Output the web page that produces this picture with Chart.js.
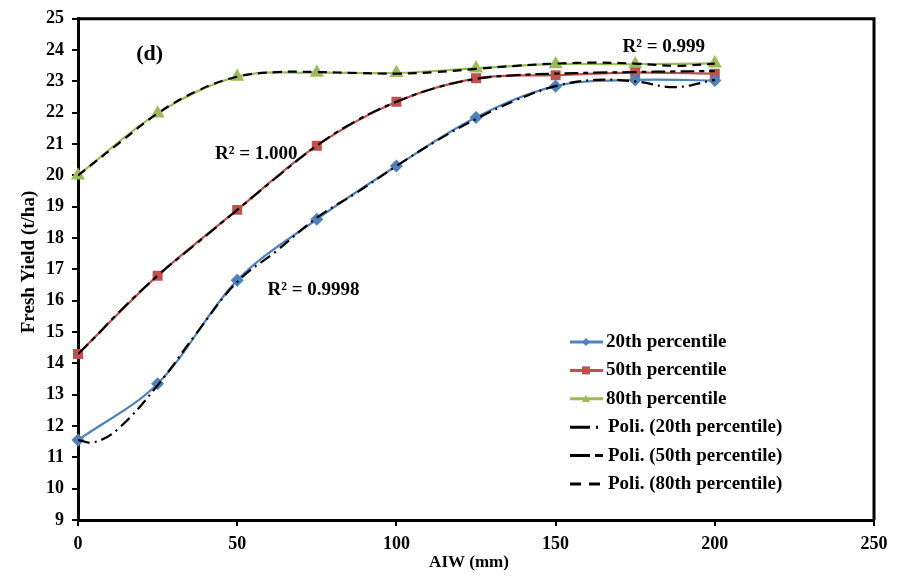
<!DOCTYPE html>
<html>
<head>
<meta charset="utf-8">
<script src="https://cdn.jsdelivr.net/npm/chart.js@4.4.1/dist/chart.umd.min.js"></script>
<style>
  body { margin: 0; background: #fff; }
  #wrap { width: 897px; height: 578px; }
</style>
</head>
<body>
<div id="wrap"><canvas id="chart0" width="897" height="578"></canvas></div>
<script>
"use strict"

// == data
const aiw = [0, 25, 50, 75, 100, 125, 150, 175, 200]
const p20 = [11.55, 13.35, 16.65, 18.6, 20.3, 21.85, 22.85, 23.05, 23.03]
const p50 = [14.3, 16.8, 18.9, 20.95, 22.35, 23.1, 23.2, 23.28, 23.25]
const p80 = [20.0, 21.98, 23.15, 23.28, 23.27, 23.42, 23.55, 23.55, 23.58]

// polynomial trend lines
const trendX   = [0, 5, 12.5, 25, 37.5, 50, 62.5, 75, 87.5, 100, 112.5, 125, 137.5, 150, 162.5, 175, 187.5, 200]
const trend20  = [11.55, 11.48, 11.9, 13.3, 15.0, 16.6, 17.6, 18.65, 19.45, 20.3, 21.1, 21.8, 22.4, 22.85, 23.05, 23.0, 22.82, 23.05]
const trend50  = [14.3, 14.8, 15.6, 16.8, 17.85, 18.9, 19.95, 20.95, 21.75, 22.35, 22.8, 23.08, 23.2, 23.25, 23.28, 23.3, 23.32, 23.33]
const trend80  = [20.0, 20.4, 21.0, 21.98, 22.7, 23.15, 23.3, 23.3, 23.27, 23.25, 23.3, 23.4, 23.5, 23.57, 23.6, 23.57, 23.5, 23.57]

const xTicks = [0, 50, 100, 150, 200, 250]
const yMin = 9, yMax = 25

// R² labels, placed in data coordinates
const notes = [
    { text: "(d)",          x: 22.5,  y: 23.87, size: 22 },
    { text: "R² = 1.000",   x: 56.0,  y: 20.67, size: 19 },
    { text: "R² = 0.9998",  x: 74.0,  y: 16.35, size: 19 },
    { text: "R² = 0.999",   x: 184.0, y: 24.11, size: 19 },
]

const FONT = "'Liberation Serif', 'Times New Roman', serif"
const BLUE = "#4F81BD", RED = "#C0504D", GREEN = "#9BBB59"

function pts(xs, ys) {
    return xs.map((x, i) => ({ x: x, y: ys[i] }))
}

const legendItems = [
    { label: "20th percentile", color: BLUE, marker: "rectRot", dash: [] },
    { label: "50th percentile", color: RED, marker: "rect", dash: [] },
    { label: "80th percentile", color: GREEN, marker: "triangle", dash: [] },
    { label: "Poli. (20th percentile)", color: "#000", marker: null, dash: [20, 6, 2, 40] },
    { label: "Poli. (50th percentile)", color: "#000", marker: null, dash: [20, 5, 8, 40] },
    { label: "Poli. (80th percentile)", color: "#000", marker: null, dash: [11, 8, 11, 40] },
]

function drawMarker(ctx, type, x, y, r, color) {
    ctx.save()
    ctx.fillStyle = color
    ctx.beginPath()
    if (type == "rect") {
        ctx.rect(x - r, y - r, 2 * r, 2 * r)
    } else if (type == "rectRot") {
        ctx.moveTo(x, y - r); ctx.lineTo(x + r, y); ctx.lineTo(x, y + r); ctx.lineTo(x - r, y)
    } else {
        ctx.moveTo(x, y - r); ctx.lineTo(x + r, y + r * 0.8); ctx.lineTo(x - r, y + r * 0.8)
    }
    ctx.closePath()
    ctx.fill()
    ctx.restore()
}

const extras = {
    id: "extras",
    afterDraw(chart) {
        const ctx = chart.ctx
        const a = chart.chartArea
        const xs = chart.scales.x, ys = chart.scales.y
        ctx.save()
        // top and right frame
        ctx.strokeStyle = "#000"
        ctx.lineWidth = 3
        ctx.beginPath()
        ctx.moveTo(a.left, a.top)
        ctx.lineTo(a.right, a.top)
        ctx.lineTo(a.right, a.bottom)
        ctx.stroke()

        // axis titles
        ctx.fillStyle = "#000"
        ctx.textAlign = "center"
        ctx.textBaseline = "middle"
        ctx.font = "bold 17px " + FONT
        ctx.fillText("AIW (mm)", 469, 563)
        ctx.save()
        ctx.translate(29, 262)
        ctx.rotate(-Math.PI / 2)
        ctx.font = "bold 19px " + FONT
        ctx.fillText("Fresh Yield (t/ha)", 0, 0)
        ctx.restore()

        // notes
        notes.forEach(n => {
            ctx.font = "bold " + n.size + "px " + FONT
            ctx.fillText(n.text, xs.getPixelForValue(n.x), ys.getPixelForValue(n.y))
        })

        // legend
        const lx = 570, top = 342, step = 28.4
        ctx.textAlign = "left"
        ctx.font = "bold 19px " + FONT
        legendItems.forEach((it, i) => {
            const y = top + i * step
            ctx.strokeStyle = it.color
            ctx.lineWidth = 3
            ctx.setLineDash(it.dash)
            ctx.beginPath()
            ctx.moveTo(lx, y)
            ctx.lineTo(lx + 33, y)
            ctx.stroke()
            ctx.setLineDash([])
            if (it.marker) drawMarker(ctx, it.marker, lx + 16, y, 4, it.color)
            ctx.fillStyle = "#000"
            ctx.fillText(it.label, it.marker ? lx + 36 : lx + 38, y)
        })
        ctx.restore()
    }
}

const axisFont = { family: FONT, size: 18, weight: "bold" }

new Chart(document.getElementById("chart0").getContext("2d"), {
    type: "line",
    data: {
        datasets: [
            { label: "Poli. (20th percentile)", data: pts(trendX, trend20), borderColor: "#000", borderWidth: 2.2,
              borderDash: [12, 5, 2, 5], pointRadius: 0, tension: 0.4, order: 0 },
            { label: "Poli. (50th percentile)", data: pts(trendX, trend50), borderColor: "#000", borderWidth: 2.2,
              borderDash: [14, 5, 5, 5], pointRadius: 0, tension: 0.4, order: 0 },
            { label: "Poli. (80th percentile)", data: pts(trendX, trend80), borderColor: "#000", borderWidth: 2.2,
              borderDash: [9, 6], pointRadius: 0, tension: 0.4, order: 0 },
            { label: "20th percentile", data: pts(aiw, p20), borderColor: BLUE, backgroundColor: BLUE, borderWidth: 2.2,
              pointStyle: "rectRot", pointRadius: 5, tension: 0.35, clip: false, order: 1 },
            { label: "50th percentile", data: pts(aiw, p50), borderColor: RED, backgroundColor: RED, borderWidth: 2.2,
              pointStyle: "rect", pointRadius: 5.5, tension: 0.35, clip: false, order: 1 },
            { label: "80th percentile", data: pts(aiw, p80), borderColor: GREEN, backgroundColor: GREEN, borderWidth: 2.2,
              pointStyle: "triangle", pointRadius: 6, tension: 0.35, clip: false, order: 1 },
        ]
    },
    options: {
        responsive: false,
        animation: false,
        devicePixelRatio: 1,
        layout: { padding: { left: 0, top: 17, right: 23, bottom: 0 } },
        plugins: { legend: { display: false }, tooltip: { enabled: false } },
        scales: {
            x: {
                type: "linear", min: 0, max: 250,
                afterBuildTicks: s => { s.ticks = xTicks.map(v => ({ value: v })) },
                afterFit: s => { s.height = 58 },
                ticks: { color: "#000", font: axisFont, padding: 8, maxRotation: 0 },
                grid: { drawOnChartArea: false, drawTicks: true, tickLength: 6, color: "#000", lineWidth: 2 },
                border: { color: "#000", width: 3 }
            },
            y: {
                min: yMin, max: yMax,
                afterFit: s => { s.width = 78 },
                ticks: { stepSize: 1, color: "#000", font: axisFont, padding: 8 },
                grid: { drawOnChartArea: false, drawTicks: true, tickLength: 6, color: "#000", lineWidth: 2 },
                border: { color: "#000", width: 3 }
            }
        }
    },
    plugins: [extras]
})
</script>
</body>
</html>
